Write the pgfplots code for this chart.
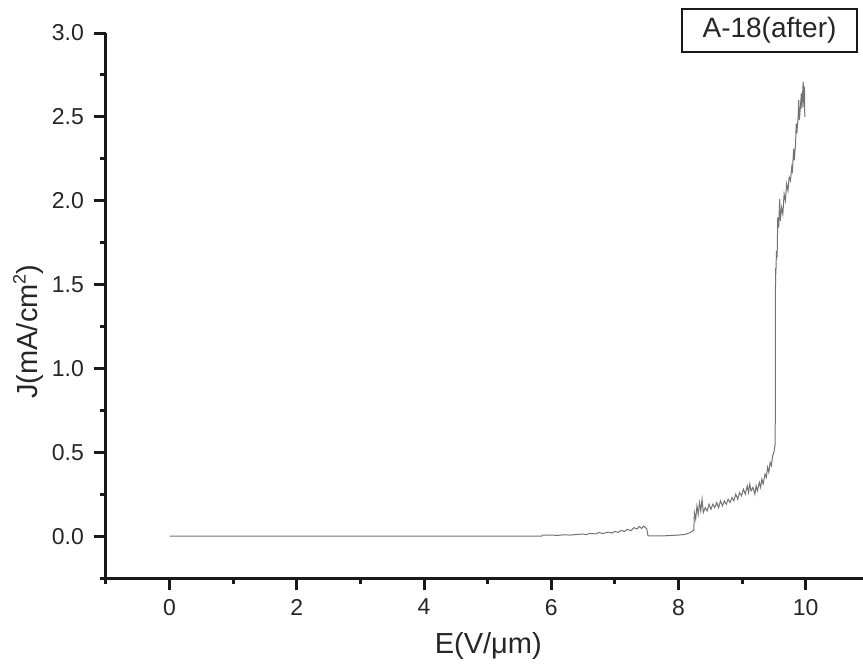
\documentclass[border=0pt]{standalone}
\usepackage{pgfplots}
\pgfplotsset{compat=1.18}
\usepackage{fontspec}
\setmainfont{Liberation Sans}
\definecolor{txt}{RGB}{38,38,38}
\begin{document}
\begin{tikzpicture}
\useasboundingbox (-53pt,-44pt) rectangle (378.5pt,289pt);
\begin{axis}[
  at={(0,0)}, anchor=south west,
  scale only axis, width=378.5pt, height=272.5pt,
  xmin=-1, xmax=10.9, ymin=-0.25, ymax=3.0,
  axis lines=left,
  axis line style={-, line width=1.5pt, black!90},
  every tick/.style={line width=1.5pt, black!90},
  tick align=outside,
  major tick length=6pt, minor tick length=3pt,
  xtick={0,2,4,6,8,10},
  minor xtick={-1,1,3,5,7,9},
  ytick={0,0.5,1,1.5,2,2.5,3},
  minor ytick={-0.25,0.25,0.75,1.25,1.75,2.25,2.75},
  /pgf/number format/assume math mode=true,
  yticklabel style={/pgf/number format/fixed, /pgf/number format/fixed zerofill, /pgf/number format/precision=1, xshift=-1.5pt},
  xticklabel style={/pgf/number format/fixed, yshift=-1pt},
  tick label style={font=\fontsize{11.5}{13}\selectfont, text=txt},
  label style={font=\fontsize{14.5}{17}\selectfont, text=txt},
  xlabel={E(V/μm)},
  ylabel={J(mA/cm\raisebox{0.75ex}{\fontsize{9}{10}\selectfont 2})},
  xlabel style={at={(axis description cs:0.505,-0.139)}, anchor=base},
  ylabel style={at={(axis description cs:-0.091,0.452)}, anchor=base, rotate=0},
  clip=false,
]
\addplot[black!55, line width=0.5pt] coordinates {
(0,0) (5.85,0) (5.86,0.005) (6.0,0.006) (6.1,0.004) (6.2,0.008) (6.3,0.006)
(6.4,0.010) (6.5,0.012) (6.55,0.008) (6.6,0.016) (6.7,0.013) (6.75,0.022)
(6.8,0.015) (6.9,0.024) (6.95,0.018) (7.0,0.028) (7.05,0.022) (7.1,0.034)
(7.15,0.028) (7.2,0.040) (7.25,0.032) (7.3,0.050) (7.35,0.042) (7.38,0.058)
(7.42,0.045) (7.45,0.060) (7.48,0.050) (7.5,0.045) (7.52,0.002) (7.6,0.001)
(7.8,0.002) (8.0,0.006) (8.1,0.010) (8.18,0.020) (8.22,0.030) (8.24,0.035)
(8.25,0.14) (8.27,0.10) (8.29,0.18) (8.31,0.13) (8.33,0.20) (8.35,0.15)
(8.37,0.22) (8.39,0.14) (8.42,0.17) (8.45,0.15) (8.48,0.19) (8.51,0.16)
(8.54,0.19) (8.57,0.17) (8.60,0.20) (8.63,0.17) (8.66,0.21) (8.69,0.18)
(8.72,0.21) (8.75,0.19) (8.78,0.22) (8.81,0.20) (8.84,0.23) (8.87,0.21)
(8.90,0.25) (8.93,0.22) (8.96,0.26) (8.99,0.24) (9.02,0.28) (9.05,0.25)
(9.08,0.30) (9.10,0.26) (9.12,0.31) (9.14,0.27) (9.17,0.29) (9.20,0.25)
(9.22,0.30) (9.24,0.27) (9.27,0.32) (9.29,0.29) (9.31,0.34) (9.33,0.31)
(9.36,0.37) (9.38,0.35) (9.40,0.41) (9.42,0.38) (9.44,0.44) (9.46,0.42)
(9.48,0.48) (9.50,0.50) (9.52,0.55) (9.525,1.60) (9.53,1.56) (9.54,1.70)
(9.55,1.66) (9.56,1.90) (9.575,1.84) (9.59,2.01) (9.60,1.88) (9.62,1.96)
(9.64,1.92) (9.66,2.04) (9.68,2.00) (9.70,2.10) (9.72,2.06) (9.74,2.14)
(9.76,2.12) (9.78,2.20) (9.79,2.18) (9.81,2.31) (9.82,2.24) (9.84,2.34)
(9.85,2.46) (9.86,2.40) (9.88,2.50) (9.89,2.60) (9.90,2.48) (9.92,2.58)
(9.93,2.64) (9.94,2.55) (9.96,2.71) (9.97,2.56) (9.98,2.68) (9.985,2.50)
};
\node[draw=black!90, line width=1pt, minimum width=87.5pt, minimum height=21.5pt,
  font=\fontsize{14}{16}\selectfont, text=txt, inner sep=0pt]
  at (axis description cs:0.8765,1.0046) {A-18(after)};
\end{axis}
\end{tikzpicture}
\end{document}
